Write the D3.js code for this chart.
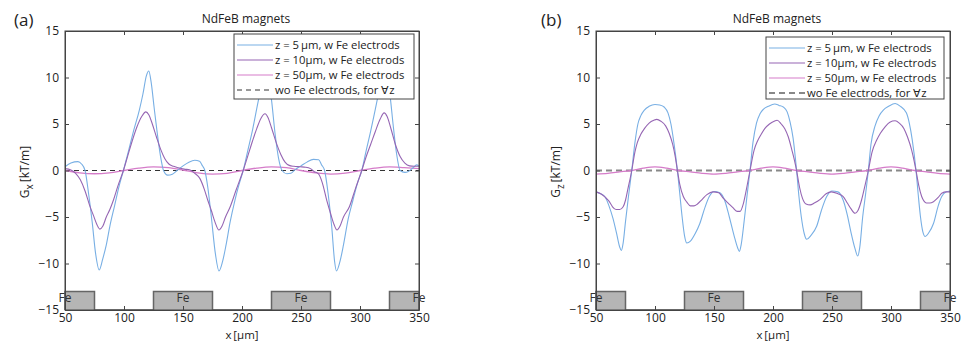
<!DOCTYPE html>
<html><head><meta charset="utf-8">
<script src="https://cdn.jsdelivr.net/npm/d3@7"></script>
<style>
body{margin:0;background:#fff;}
svg text{font-family:"Open Sans","Noto Sans",sans-serif;fill:#222;}
</style></head>
<body><svg id="c" width="963" height="341"></svg>
<script>
// ---------- data ----------
const xTicks = [50,100,150,200,250,300,350];
const yTicks = [-15,-10,-5,0,5,10,15];
const feBlocks = [[50,75],[125,175],[225,275],[325,350]];
const feLabelX = [50,150,250,350];
const legendLabels = ["z = 5\u2009\u03bcm, w Fe electrods","z = 10\u03bcm, w Fe electrods","z = 50\u03bcm, w Fe electrods","wo Fe electrods, for \u2200z"];
const zeroX = [50,350];
const zeroY = [0,0];

// panel (a) Gx
const gxBlueX = [50,55,61,64,67,70,73,76,79,82,85,88,92,96,99.5,104,108,113,116,119,121,123,125.5,128,131,133.5,137,141,145,150,155,160,164,166.5,168.5,171,174,177.5,180.5,183.5,186.5,190,194,197.5,201,205,209,213.5,217,220,222,225,228,231,234,238,241.5,245,250,255,260.5,265,267.5,270,273,276,278.5,280,283,286,290,294,298,301.5,305,309,313,317,320,322,325.5,328,331,334,338,341,345,348,350];
const gxBlueY = [0.4,0.8,0.95,0.7,0,-2.5,-5.5,-9,-10.7,-9.5,-8,-6,-3.8,-1.6,0,2.2,4.2,6.5,8.2,10.2,10.7,9.5,6.8,4.2,1.5,0,-0.5,-0.4,0,0.5,0.9,1.1,1.0,0.5,0,-1.8,-5,-9,-10.8,-9.8,-8,-5.5,-3.2,-1.5,0,2.2,4.4,7.3,9.4,10.3,10,7.6,4,1.3,0,-0.35,-0.3,0.1,0.5,0.9,1.2,1.15,0.6,0,-2.5,-6,-9.8,-10.8,-9.8,-8,-5.2,-3.2,-1.3,0,2,4.2,6.6,9,10.3,10.1,8,5,1.8,0,-0.2,-0.1,0.3,0.6,0.5];
const gxPurpleX = [50,55,59,63,67,71,74,77,79.5,82,85,88,91,95,99.5,103,107,111,115,118.5,121,124,127.5,131,134.5,138,142,146,151,156,160,164.5,168,171,174,177,180.5,183,186,190,195,201,205,209,212.5,216,219.5,222,225,229,233,236.5,240,244,249,254,258,261,265,268,272,275,278,280.5,283,286,291,296,301.5,305,309,313,317,320.5,323,326,330,334,338,342,346,350];
const gxPurpleY = [0.2,0.05,-0.3,-1,-2.2,-3.8,-4.8,-5.8,-6.3,-6,-5,-4.2,-3.2,-1.6,0,1.5,3.2,4.7,5.8,6.3,6,5,3.6,2.3,1.3,0.7,0.45,0.3,0.15,0.05,-0.3,-0.9,-2,-3.2,-4.3,-5.5,-6.4,-6,-5,-3.9,-2.1,0,1.6,3.2,4.5,5.6,6.1,5.7,4.6,3,1.7,0.9,0.55,0.45,0.4,0.35,0.2,-0.1,-0.4,-1.3,-3.3,-4.6,-5.8,-6.4,-6,-5,-3.9,-2,0,1.4,2.8,4.2,5.5,6.2,5.8,4.6,2.8,1.5,0.8,0.5,0.45,0.45];
const gxPinkX = [50,62.5,75,87.5,100,112.5,125,137.5,150,162.5,175,187.5,200,212.5,225,237.5,250,262.5,275,287.5,300,312.5,325,337.5,350];
const gxPinkY = [0,-0.25,-0.35,-0.25,0,0.25,0.38,0.3,0.05,-0.25,-0.38,-0.3,0,0.25,0.38,0.3,0,-0.25,-0.38,-0.28,0,0.25,0.38,0.3,0.2];

// panel (b) Gz
const gzBlueX = [50,54,58,61,64.5,67.5,70,71.5,73,75,77.5,80.3,83,85.5,88,91,95,100,104,108,111,113.5,116,119,121,123,125,127,130,134,138,142,146,150,155,159,163,167,170,171.5,173,175.5,178,180.5,183,186,189,192,196,201.5,205,209,212,214.5,217,220,222,224,226.5,228.5,232,237,241,245.5,250,255,259.5,263,266,269.5,271.8,273.5,276,278.5,280.8,283,286.5,290,293.5,298,303.5,308,313,315.5,318,321.2,323,325,327,329,332,336,340,343,346.5,350];
const gzBlueY = [-2.3,-2.5,-2.9,-3.8,-5.2,-6.8,-8.2,-8.6,-7.8,-5.5,-2.8,0,3,5,5.9,6.5,6.9,7.1,7.05,6.8,6.2,5,3,0,-2.5,-5,-7,-7.8,-7.6,-6.8,-5.7,-4.1,-2.8,-2.25,-2.4,-3.2,-5,-7,-8.3,-8.7,-8,-5.5,-2.7,0,3,5.1,6.1,6.6,6.9,7.15,7,6.8,6.3,5.2,3.5,0,-2.8,-5,-6.8,-7.4,-7,-6,-4.3,-2.8,-2.2,-2.3,-3.2,-4.8,-6.6,-8.4,-9.2,-8.3,-5,-2.5,0,2.8,4.8,5.9,6.5,6.9,7.2,6.9,6.2,5.1,3.3,0,-2.5,-5,-6.6,-7.1,-6.7,-5.7,-3.8,-2.8,-2.3,-2.2];
const gzPurpleX = [50,54,58,61,64,67,70,73,75,77,80.3,83,85,88,91,95,99,101.5,105,109,112,115,117,119,121,124,127,130,133,136,140,144,149,154,158,162,166,169.5,172,175,177.5,180.5,184,187,190,193,197,201,203.5,207,210,213,216,218,220,222.5,225,228,231.5,235,240,245,249.5,255,259.5,263,266,269.5,272,275,278,280.8,284,288,291,295,299,303.5,307,311,314,317.5,319.5,321.2,323.5,326,328,330,333,336,340,343,347,350];
const gzPurpleY = [-2.3,-2.5,-2.9,-3.3,-3.9,-4.2,-4.2,-3.9,-3.2,-2,0,2,3,3.9,4.5,5.1,5.4,5.5,5.3,4.8,4,2.8,1.6,0,-1.5,-2.8,-3.4,-3.8,-3.8,-3.6,-3.1,-2.6,-2.3,-2.4,-3,-3.5,-4,-4.4,-4.4,-3.5,-2,0,2.2,3.2,3.9,4.5,5,5.3,5.4,5,4.5,3.6,2.2,1.2,0,-1.8,-3,-3.6,-3.7,-3.5,-3.1,-2.5,-2.3,-2.5,-2.8,-3.5,-4.1,-4.6,-4.3,-3.2,-1.6,0,2,3.3,4,4.7,5.2,5.35,5.1,4.5,3.6,2.2,1.1,0,-1.6,-2.8,-3.3,-3.5,-3.5,-3.35,-2.9,-2.45,-2.3,-2.3];
const gzPinkX = [50,60,70,80,90,100,110,120,130,140,150,160,170,180,190,200,210,220,230,240,250,260,270,280,290,300,310,320,330,340,350];
const gzPinkY = [-0.38,-0.3,-0.15,0,0.25,0.4,0.25,0,-0.15,-0.3,-0.38,-0.3,-0.15,0,0.25,0.4,0.25,0,-0.15,-0.3,-0.38,-0.3,-0.15,0,0.25,0.4,0.25,0,-0.15,-0.3,-0.38];

// ---------- drawing ----------
const svg = d3.select("#c");
const colBlue = "#78afe4", colPurple = "#9565b3", colPink = "#d57cc9";

function panel(opt){
  const x = d3.scaleLinear().domain([50,350]).range([opt.left, opt.left+354]);
  const y = d3.scaleLinear().domain([-15,15]).range([310,31]);
  const g = svg.append("g");
  const cid = "clip"+opt.id;
  svg.append("defs").append("clipPath").attr("id",cid).append("rect")
    .attr("x",x(50)).attr("y",y(15)).attr("width",x(350)-x(50)).attr("height",y(-15)-y(15));

  // Fe blocks
  g.selectAll("rect.fe").data(feBlocks).join("rect")
    .attr("x",d=>x(d[0])).attr("width",d=>x(d[1])-x(d[0]))
    .attr("y",y(-13)).attr("height",y(-15)-y(-13))
    .attr("fill","#b5b5b5");
  const stepPts = [];
  feBlocks.forEach(b=>{stepPts.push([b[0],-15],[b[0],-13],[b[1],-13],[b[1],-15]);});
  g.append("path").attr("d",d3.line().x(d=>x(d[0])).y(d=>y(d[1]))(stepPts))
    .attr("fill","none").attr("stroke","#666").attr("stroke-width",1.5);

  const line = d3.line().x(d=>x(d[0])).y(d=>y(d[1])).curve(d3.curveMonotoneX);
  const lg = g.append("g").attr("clip-path",`url(#${cid})`);
  const zip=(a,b)=>a.map((v,i)=>[v,b[i]]);
  lg.append("path").attr("d",line(zip(zeroX,zeroY))).attr("fill","none")
    .attr("stroke",opt.dashCol).attr("stroke-width",opt.dashW).attr("stroke-dasharray",opt.dashArr);
  lg.append("path").attr("d",line(zip(opt.pinkX,opt.pinkY))).attr("fill","none").attr("stroke",colPink).attr("stroke-width",1.3);
  lg.append("path").attr("d",line(zip(opt.blueX,opt.blueY))).attr("fill","none").attr("stroke",colBlue).attr("stroke-width",1.1);
  lg.append("path").attr("d",line(zip(opt.purpleX,opt.purpleY))).attr("fill","none").attr("stroke",colPurple).attr("stroke-width",1.1);

  // Fe labels
  g.selectAll("text.fe").data(feLabelX).join("text")
    .attr("x",d=>x(d)).attr("y",302).attr("text-anchor","middle")
    .attr("font-size",12).style("fill","#333").text("Fe");

  // axes (ticks inside, all four sides)
  const ax = g.append("g");
  ax.append("g").attr("transform",`translate(0,${y(-15)})`)
    .call(d3.axisBottom(x).tickValues(xTicks).tickSizeInner(-4).tickSizeOuter(0).tickPadding(3));
  ax.append("g").attr("transform",`translate(0,${y(15)})`)
    .call(d3.axisTop(x).tickValues(xTicks).tickSizeInner(-4).tickSizeOuter(0).tickFormat(""));
  ax.append("g").attr("transform",`translate(${x(50)},0)`)
    .call(d3.axisLeft(y).tickValues(yTicks).tickSizeInner(-4).tickSizeOuter(0).tickPadding(6)
      .tickFormat(d=>d<0?"\u2212"+Math.abs(d):d));
  ax.append("g").attr("transform",`translate(${x(350)},0)`)
    .call(d3.axisRight(y).tickValues(yTicks).tickSizeInner(-4).tickSizeOuter(0).tickFormat(""));
  ax.selectAll(".domain").attr("stroke","#444");
  ax.selectAll(".tick line").attr("stroke","#444");
  ax.selectAll("text").attr("font-size",12).attr("font-family",null).style("fill","#222");
  g.append("rect").attr("x",x(50)).attr("y",y(15)).attr("width",x(350)-x(50)).attr("height",y(-15)-y(15))
    .attr("fill","none").attr("stroke","#444").attr("stroke-width",1);

  // title, labels
  g.append("text").attr("x",(x(50)+x(350))/2+4).attr("y",23).attr("text-anchor","middle").attr("font-size",12).text("NdFeB magnets");
  g.append("text").attr("x",opt.tagX).attr("y",26).attr("font-size",17).text(opt.tag);
  g.append("text").attr("x",(x(50)+x(350))/2).attr("y",339).attr("text-anchor","middle").attr("font-size",11.5)
    .text("x\u2009[\u03bcm]");
  const yl = g.append("text").attr("transform",`translate(${opt.left-36},172) rotate(-90)`).attr("text-anchor","middle").attr("font-size",12);
  yl.append("tspan").text("G");
  yl.append("tspan").attr("dy",4).attr("font-size",10).text(opt.sub);
  yl.append("tspan").attr("dy",-4).text("\u2009[kT/m]");

  // legend
  const L = opt.leg;
  const lgd = g.append("g");
  lgd.append("rect").attr("x",L.x).attr("y",L.y).attr("width",L.w).attr("height",L.h)
    .attr("fill","#fff").attr("stroke","#444").attr("stroke-width",1);
  const cols=[colBlue,colPurple,colPink,opt.dashCol];
  legendLabels.forEach((t,i)=>{
    const yy = L.y+11+i*15;
    const ln = lgd.append("line").attr("x1",L.x+3).attr("x2",L.x+39).attr("y1",yy).attr("y2",yy)
      .attr("stroke",cols[i]).attr("stroke-width",i===3?opt.dashW:1.1);
    if(i===3) ln.attr("stroke-dasharray",opt.dashArr);
    lgd.append("text").attr("x",L.x+41).attr("y",yy+4).attr("font-size",11.3).text(t);
  });
}

panel({left:65, id:"a", tag:"(a)", tagX:14, sub:"x",
  blueX:gxBlueX, blueY:gxBlueY, purpleX:gxPurpleX, purpleY:gxPurpleY, pinkX:gxPinkX, pinkY:gxPinkY,
  dashCol:"#333", dashW:1, dashArr:"5,4",
  leg:{x:234,y:34,w:180,h:65}});
panel({left:596, id:"b", tag:"(b)", tagX:541, sub:"z",
  blueX:gzBlueX, blueY:gzBlueY, purpleX:gzPurpleX, purpleY:gzPurpleY, pinkX:gzPinkX, pinkY:gzPinkY,
  dashCol:"#888", dashW:1.8, dashArr:"6,4",
  leg:{x:766,y:37,w:178,h:62}});
</script></body></html>
